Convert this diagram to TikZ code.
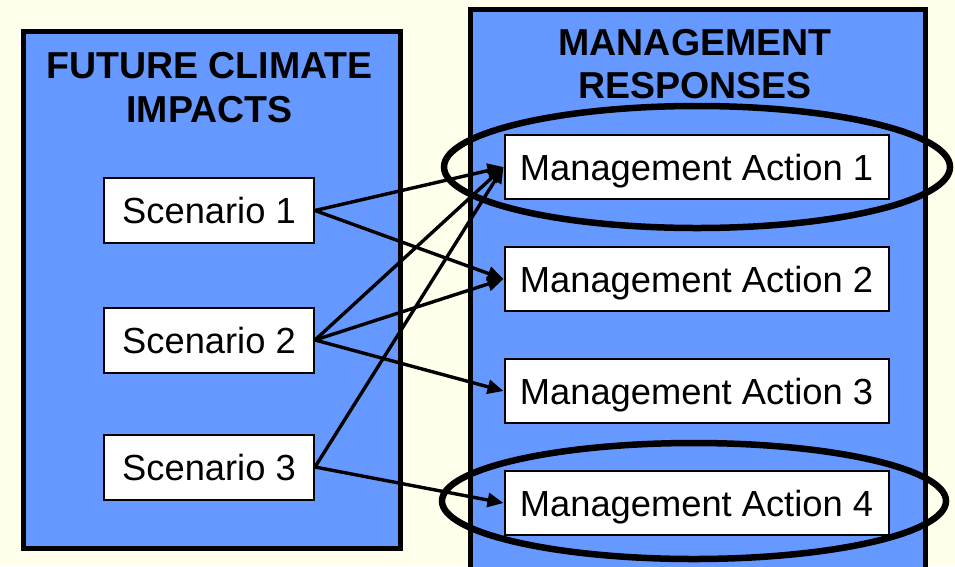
\documentclass[tikz,border=0pt]{standalone}
\usepackage{fontspec}
\setmainfont{Liberation Sans}
\usetikzlibrary{arrows.meta}
\definecolor{bgcream}{RGB}{255,255,235}
\definecolor{panelblue}{RGB}{102,153,255}
\tikzset{
  panel/.style={draw=black, line width=5pt, fill=panelblue, inner sep=0pt, anchor=north west},
  headtext/.style={font=\fontsize{37.5}{44}\selectfont\bfseries, inner sep=0pt, anchor=base},
  scenbox/.style={draw=black, line width=2pt, fill=white, minimum width=210pt, minimum height=65pt,
    inner sep=0pt, text height=26pt, text depth=0pt, font=\fontsize{36.3}{44}\selectfont},
  actbox/.style={scenbox, minimum width=384pt, minimum height=64pt},
  link/.style={line width=3.4pt, -{Triangle[length=16pt,width=14pt]}},
  ring/.style={draw=black, line width=6.5pt},
}
\begin{document}
\begin{tikzpicture}[x=1pt,y=-1pt]
  \useasboundingbox (0,0) rectangle (955,566);
  \fill[bgcream] (0,0) rectangle (955,566);
  \clip (0,0) rectangle (955,566);

  % panels
  \node[panel, minimum width=377pt, minimum height=517pt] (leftpanel) at (21,29) {};
  \node[panel, minimum width=455.5pt, minimum height=580pt] (rightpanel) at (467.5,7) {};

  % headings
  \node[headtext] (lh1) at (209.5,78) {FUTURE CLIMATE};
  \node[headtext] (lh2) at (209.5,122) {IMPACTS};
  \node[headtext] (rh1) at (695,55) {MANAGEMENT};
  \node[headtext] (rh2) at (695,98) {RESPONSES};

  % scenario boxes
  \node[scenbox] (s1) at (209,210.5) {Scenario 1};
  \node[scenbox] (s2) at (209,340) {Scenario 2};
  \node[scenbox] (s3) at (209,467) {Scenario 3};

  % action boxes
  \node[actbox] (m1) at (696.5,167) {Management Action 1};
  \node[actbox] (m2) at (696.5,279) {Management Action 2};
  \node[actbox] (m3) at (696.5,391) {Management Action 3};
  \node[actbox] (m4) at (696.5,503) {Management Action 4};

  % connectors
  \draw[link] (s1.east) -- (m1.west);
  \draw[link] (s1.east) -- (m2.west);
  \draw[link] (s2.east) -- (m1.west);
  \draw[link] (s2.east) -- (m2.west);
  \draw[link] (s2.east) -- (m3.west);
  \draw[link] (s3.east) -- (m1.west);
  \draw[link] (s3.east) -- (m4.west);

  % highlight rings
  \draw[ring] (697,167) ellipse [x radius=253, y radius=61];
  \draw[ring] (694,501) ellipse [x radius=252, y radius=58];
\end{tikzpicture}
\end{document}
